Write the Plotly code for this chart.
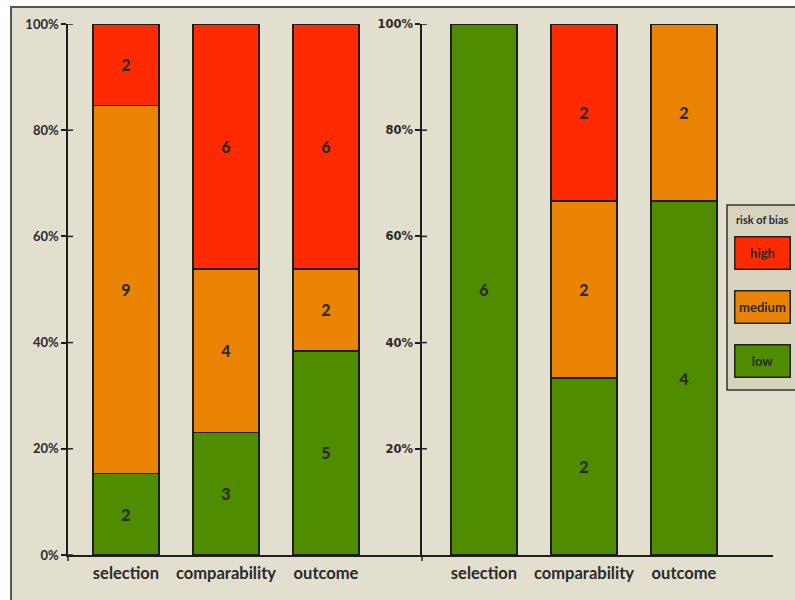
import plotly.graph_objects as go

categories = ["selection", "comparability", "outcome"]
levels = ["low", "medium", "high"]
colors = {"low": "#4f8c00", "medium": "#eb8405", "high": "#ff2a00"}

left_low = [2, 3, 5]
left_medium = [9, 4, 2]
left_high = [2, 6, 6]

right_low = [6, 2, 4]
right_medium = [0, 2, 2]
right_high = [0, 2, 0]

y_ticks_left = [0, 20, 40, 60, 80, 100]
y_ticks_right = [20, 40, 60, 80, 100]

FONT = "Lato"
DARK = "#1e1e1e"
BG = "#e3dfcf"

W, H = 795, 600
fig = go.Figure()

left = {"low": left_low, "medium": left_medium, "high": left_high}
right = {"low": right_low, "medium": right_medium, "high": right_high}

for data, xa, ya in [(left, "x", "y"), (right, "x2", "y2")]:
    for lv in levels:
        vals = data[lv]
        fig.add_trace(go.Bar(
            x=categories, y=vals, name=lv, xaxis=xa, yaxis=ya,
            width=0.66,
            marker=dict(color=colors[lv], line=dict(color=DARK, width=1.5)),
            text=[str(v) if v else "" for v in vals],
            textposition="inside", insidetextanchor="middle", textangle=0,
            insidetextfont=dict(family="Lato", size=16, color="#2b2b2b", weight=900),
            showlegend=False, hoverinfo="skip",
        ))

x1_dom = [68 / W, 422 / W]
x2_dom = [422 / W, 773 / W]
y_dom = [1 - 555 / H, 1 - 24 / H]

axis_common = dict(showline=True, linecolor=DARK, linewidth=1.5, showgrid=False,
                   zeroline=False, automargin=False)
fig.update_layout(
    width=W, height=H, autosize=False,
    margin=dict(l=0, r=0, t=0, b=0),
    template="none",
    barmode="stack", barnorm="percent",
    paper_bgcolor="white", plot_bgcolor="rgba(0,0,0,0)",
    font=dict(family=FONT, color="#2a2a2a"),
    xaxis=dict(domain=x1_dom, range=[-0.58, 2.96], type="category", ticks="",
               ticklabelstandoff=2,
               tickfont=dict(size=16.5, weight="bold", color="#2a2a2a"), **axis_common),
    xaxis2=dict(domain=x2_dom, range=[-0.62, 2.89], type="category", ticks="", anchor="y2",
                ticklabelstandoff=2,
                tickfont=dict(size=16.5, weight="bold", color="#2a2a2a"), **axis_common),
    yaxis=dict(domain=y_dom, range=[0, 100], tickmode="array", tickvals=y_ticks_left,
               ticktext=[f"{v}%" for v in y_ticks_left],
               ticks="outside", ticklen=5, tickwidth=1.5, tickcolor=DARK, anchor="x",
               tickfont=dict(size=13, weight="bold", color="#2a2a2a"), **axis_common),
    yaxis2=dict(domain=y_dom, range=[0, 100], tickmode="array", tickvals=y_ticks_right,
                ticktext=[f"{v}%" for v in y_ticks_right],
                ticks="outside", ticklen=5, tickwidth=1.5, tickcolor=DARK, anchor="x2",
                tickfont=dict(size=11.5, weight="bold", color="#2a2a2a", family="DejaVu Sans"),
                **axis_common),
)

shapes = []
shapes.append(dict(type="rect", xref="paper", yref="paper", x0=11 / W, x1=1.05,
                   y0=-0.05, y1=1 - 7 / H, fillcolor=BG,
                   line=dict(color="#555555", width=2), layer="below"))
for xr, vals in [("x domain", y_ticks_left), ("x2 domain", y_ticks_right)]:
    dom = x1_dom if xr == "x domain" else x2_dom
    frac = 5 / ((dom[1] - dom[0]) * W)
    ya = "y" if xr == "x domain" else "y2"
    for v in vals:
        shapes.append(dict(type="line", xref=xr, yref=ya, x0=0, x1=frac, y0=v, y1=v,
                           line=dict(color=DARK, width=1.5)))
    shapes.append(dict(type="line", xref=xr, yref=ya + " domain", x0=0, x1=0,
                       y0=0, y1=-6 / ((y_dom[1] - y_dom[0]) * H),
                       line=dict(color=DARK, width=1.5)))
shapes.append(dict(type="rect", xref="paper", yref="paper", x0=727 / W, x1=1.05,
                   y0=1 - 390 / H, y1=1 - 205 / H, fillcolor="#d8d3bf",
                   line=dict(color="#333333", width=1.5)))
fig.update_layout(shapes=shapes)

annotations = [dict(text="<b>risk of bias</b>", xref="paper", yref="paper", x=762 / W, y=1 - 219 / H,
                    showarrow=False, font=dict(size=11, color="#2a2a2a"),
                    xanchor="center", yanchor="middle")]
legend_items = [("high", 253), ("medium", 307), ("low", 361)]
for lv, yc in legend_items:
    annotations.append(dict(text=f"<b>{lv}</b>", xref="paper", yref="paper", x=762 / W, y=1 - yc / H,
                            showarrow=False, xanchor="center", yanchor="middle",
                            bgcolor=colors[lv], bordercolor="#222222", borderwidth=1.5,
                            borderpad=0, width=54, height=31,
                            font=dict(size=13, color="#2a2a2a")))
fig.update_layout(annotations=annotations)

fig.write_html("out.html", config={"displayModeBar": False},
               post_script="document.body.style.margin='0';document.body.style.overflow='hidden';")
